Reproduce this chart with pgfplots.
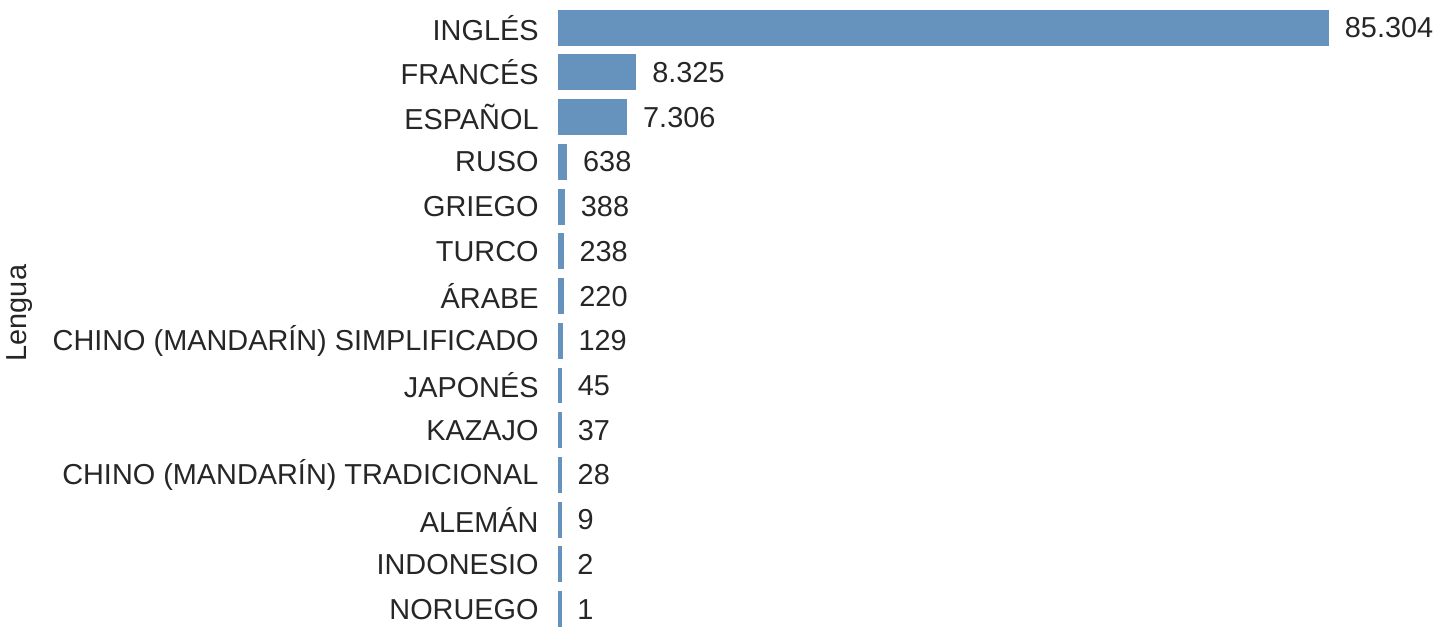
\documentclass[border=0pt]{standalone}
\usepackage{pgfplots}
\pgfplotsset{compat=1.18}
\usepackage{fontspec}
\setmainfont{Liberation Sans}
\definecolor{barblue}{RGB}{101,147,190}
\definecolor{txt}{RGB}{38,38,38}

\begin{document}
\begin{tikzpicture}
\begin{axis}[
    scale only axis,
    width=401pt,
    height=308pt,
    xbar,
    bar width=16.2pt,
    y dir=reverse,
    xmin=0, xmax=90600,
    ymin=-0.62, ymax=13.38,
    ytick={0,...,13},
    yticklabels={INGLÉS, FRANCÉS, ESPAÑOL, RUSO, GRIEGO, TURCO, ÁRABE,
        CHINO (MANDARÍN) SIMPLIFICADO, JAPONÉS, KAZAJO,
        CHINO (MANDARÍN) TRADICIONAL, ALEMÁN, INDONESIO, NORUEGO},
    xtick=\empty,
    axis line style={draw=none},
    major tick length=0pt,
    yticklabel style={font=\fontsize{14.2}{17}\selectfont, text=txt, xshift=-7pt},
    ylabel={Lengua},
    ylabel style={font=\fontsize{14.2}{17}\selectfont, text=txt, yshift=3pt},
    clip=false,
    point meta=explicit symbolic,
    nodes near coords,
    nodes near coords style={font=\fontsize{14.2}{17}\selectfont, text=txt, anchor=west, xshift=4.5pt},
]
\addplot[fill=barblue, draw=barblue, line width=1.5pt] coordinates {
    (85304,0) [85.304]
    (8325,1) [8.325]
    (7306,2) [7.306]
    (638,3) [638]
    (388,4) [388]
    (238,5) [238]
    (220,6) [220]
    (129,7) [129]
    (45,8) [45]
    (37,9) [37]
    (28,10) [28]
    (9,11) [9]
    (2,12) [2]
    (1,13) [1]
};
\end{axis}
\end{tikzpicture}
\end{document}
